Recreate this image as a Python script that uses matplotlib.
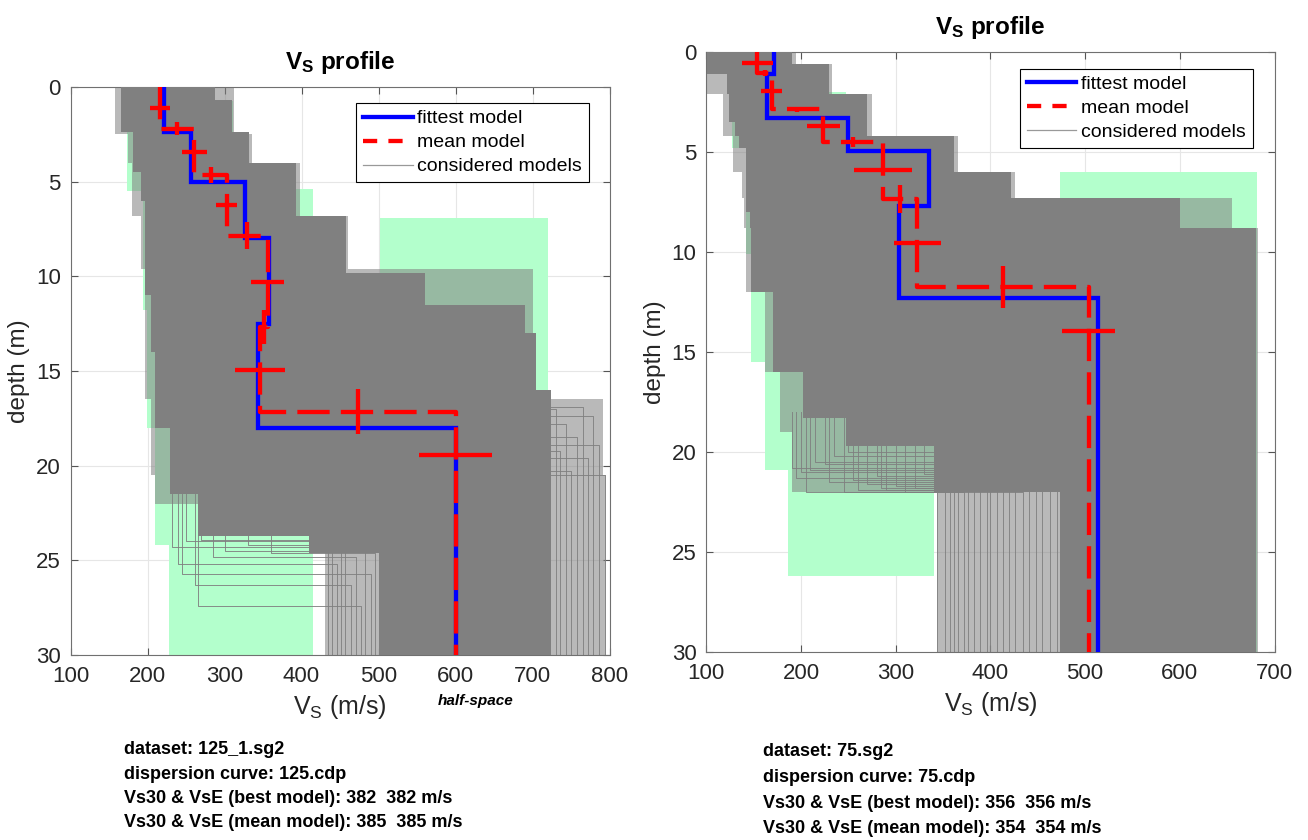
import matplotlib
matplotlib.use('Agg')
import matplotlib.pyplot as plt
from matplotlib.lines import Line2D
import numpy as np

plt.rcParams['font.family'] = ['Liberation Sans', 'DejaVu Sans']
plt.rcParams['mathtext.fontset'] = 'custom'
plt.rcParams['mathtext.rm'] = 'Liberation Sans'
plt.rcParams['mathtext.bf'] = 'Liberation Sans:bold'
plt.rcParams['mathtext.it'] = 'Liberation Sans:italic'

MAXD = 30

# ---------------- LEFT PANEL (dataset 125_1) ----------------
L_fit_vs = [222, 257, 326, 358, 343, 600]
L_fit_tops = [0, 2.4, 5.0, 8.0, 12.5, 18.0]
L_mean_vs = [216, 261, 303, 356, 346, 600]
L_mean_tops = [0, 2.2, 4.65, 7.85, 12.7, 17.15]
L_vs_err = [13, 16, 13.5, 21, 33, 47]
L_depth_err = [0.35, 0.4, 0.7, 0.9, 1.2]
L_hs_bar_depth = 19.45

L_box_vmin = [173, 194, 199, 210, 228, 502]
L_box_vmax = [311, 415, 415, 415, 415, 720]
L_box_top = [0.72, 5.4, 11.8, 18.0, 24.2, 6.94]
L_box_bot = [5.5, 11.8, 18.0, 24.2, 30, 30]

L_dense_z = [0, 0.7, 2.4, 4.0, 4.5, 6.0, 6.8, 9.8, 11.0, 11.5, 13.0, 14.0, 16.0, 18.0, 21.5, 23.7, 24.6, 30]
L_dense_lo = [165, 165, 181, 181, 191, 197, 197, 197, 205, 205, 205, 210, 210, 229, 265, 410, 500]
L_dense_hi = [288, 310, 332, 393, 393, 393, 458, 560, 560, 690, 705, 705, 724, 724, 724, 724, 724]

L_sparse_z = [0, 2.5, 4.0, 6.8, 9.6, 16.5, 20.5, 22.0, 30]
L_sparse_lo = [158, 175, 180, 192, 197, 205, 210, 430]
L_sparse_hi = [312, 336, 398, 460, 700, 792, 795, 795]

L_fr_lo_upper = [232, 250, 240, 300, 270, 262, 285, 265, 330, 245, 360]
L_fr_lo_iface = [24.3, 24.0, 25.2, 24.5, 23.9, 26.3, 24.8, 27.4, 24.2, 25.7, 24.6]
L_fr_lo_half = [434, 439, 446, 451, 457, 464, 471, 477, 482, 490, 496]
L_fr_hi_upper = [700, 690, 710, 705, 715, 695, 720, 700, 712, 708]
L_fr_hi_iface = [17.0, 19.2, 17.8, 20.3, 18.5, 16.9, 19.6, 17.4, 18.9, 20.5]
L_fr_hi_half = [730, 736, 743, 750, 758, 765, 772, 778, 787, 794]

L_info = ["dataset: 125_1.sg2",
          "dispersion curve: 125.cdp",
          "Vs30 & VsE (best model): 382  382 m/s",
          "Vs30 & VsE (mean model): 385  385 m/s"]

# ---------------- RIGHT PANEL (dataset 75) ----------------
R_fit_vs = [171, 163.7, 249.7, 335.6, 304, 513.7]
R_fit_tops = [0, 1.1, 3.3, 4.95, 7.7, 12.3]
R_mean_vs = [154, 169, 223.5, 286.6, 323, 503.6]
R_mean_tops = [0, 1.05, 2.87, 4.48, 7.36, 11.77]
R_vs_err = [16.7, 11.4, 17.6, 30.3, 25, 27.9]
R_depth_err = [0.15, 0.12, 0.25, 0.7, 1.05]
R_hs_bar_depth = 13.95

R_box_vmin = [127, 142, 147, 162, 186, 473.5]
R_box_vmax = [229, 248, 340, 340, 340, 682]
R_box_top = [0.67, 2.0, 10.1, 15.5, 20.9, 6.0]
R_box_bot = [4.8, 10.1, 15.5, 20.9, 26.2, 30]

R_dense_z = [0, 0.6, 1.1, 2.1, 3.5, 4.2, 4.8, 6.0, 7.3, 8.0, 8.8, 12.0, 16.0, 18.3, 19.7, 22.0, 30]
R_dense_lo = [101, 101, 122, 124, 130, 135, 142, 142, 142, 146, 147, 170, 202, 248, 340, 474]
R_dense_hi = [190, 230, 230, 270, 270, 362, 362, 422, 600, 600, 680, 680, 680, 680, 680, 680]

R_sparse_z = [0, 0.6, 2.1, 4.2, 6.0, 7.3, 8.8, 12, 16, 19, 22, 30]
R_sparse_lo = [100, 100, 118, 128, 138, 140, 142, 162, 178, 190, 344]
R_sparse_hi = [195, 233, 275, 366, 426, 655, 683, 683, 683, 683, 683]

R_fr_upper = [205, 230, 260, 190, 300, 245, 280, 215, 320, 200, 270, 235, 290, 210, 255, 310, 225, 195, 285, 250, 330]
R_fr_iface = [22.0, 21.5, 21.9, 20.8, 21.7, 22.0, 21.2, 20.5, 21.8, 21.0, 21.6, 20.2, 21.9, 20.9, 21.4, 22.0, 20.6, 21.3, 21.8, 20.0, 21.1]
R_fr_half = [344, 352, 357, 362, 366, 372, 376, 383, 389, 396, 400, 407, 413, 420, 426, 434, 441, 448, 455, 463, 470]

R_info = ["dataset: 75.sg2",
          "dispersion curve: 75.cdp",
          "Vs30 & VsE (best model): 356  356 m/s",
          "Vs30 & VsE (mean model): 354  354 m/s"]

GREEN = '#b3ffcc'
GRAY = '#808080'
BLUE = '#0000ff'
RED = '#ff0000'
TXT = '#262626'
LW = 3.1


def profile_xy(vs, tops, bottom=MAXD):
    x, y = [], []
    for i, v in enumerate(vs):
        t = tops[i]
        b = tops[i + 1] if i + 1 < len(tops) else bottom
        x += [v, v]
        y += [t, b]
    return x, y


def env_xy(z, lo, hi):
    y, l, h = [], [], []
    for i in range(len(lo)):
        y += [z[i], z[i + 1]]
        l += [lo[i], lo[i]]
        h += [hi[i], hi[i]]
    return y, l, h


def draw_panel(ax, fit_vs, fit_tops, mean_vs, mean_tops, vs_err, depth_err, hs_bar,
               bvmin, bvmax, btop, bbot, dz, dlo, dhi, sz, slo, shi,
               fringes, xlim):
    ax.set_xlim(*xlim)
    ax.set_ylim(MAXD, 0)
    # search-space boxes
    for a, b, t, bt in zip(bvmin, bvmax, btop, bbot):
        ax.fill([a, b, b, a], [t, t, bt, bt], color=GREEN, lw=0, zorder=1)
    # sparse considered models
    y, l, h = env_xy(sz, slo, shi)
    ax.fill_betweenx(y, l, h, color=GRAY, alpha=0.55, lw=0, zorder=2)
    # fringe considered models
    for upper, iface, half, start in fringes:
        ax.plot([upper, upper, half, half], [start, iface, iface, MAXD],
                color=GRAY, lw=0.7, alpha=0.9, zorder=2.5)
    # dense considered models
    y, l, h = env_xy(dz, dlo, dhi)
    ax.fill_betweenx(y, l, h, color=GRAY, lw=0, zorder=3)
    # fittest model
    x, y = profile_xy(fit_vs, fit_tops)
    ax.plot(x, y, color=BLUE, lw=LW, zorder=5, solid_joinstyle='miter')
    # mean model
    x, y = profile_xy(mean_vs, mean_tops)
    ax.plot(x, y, color=RED, lw=LW, dashes=(7.5, 2.6), zorder=6)
    # error bars on velocity (layer mid-depths)
    mids = [(mean_tops[i] + mean_tops[i + 1]) / 2 for i in range(len(mean_tops) - 1)] + [hs_bar]
    ax.errorbar(mean_vs, mids, xerr=vs_err, fmt='none', ecolor=RED, elinewidth=LW, capsize=0, zorder=6)
    # error bars on interface depths
    ivs = [(mean_vs[i] + mean_vs[i + 1]) / 2 for i in range(len(mean_vs) - 1)]
    ax.errorbar(ivs, mean_tops[1:], yerr=depth_err, fmt='none', ecolor=RED, elinewidth=LW, capsize=0, zorder=6)

    ax.set_yticks(range(0, 31, 5))
    ax.set_xticks(range(xlim[0], xlim[1] + 1, 100))
    ax.grid(True, color='#e6e6e6', lw=0.8, zorder=0)
    ax.set_axisbelow(True)
    ax.tick_params(direction='in', length=5, top=True, right=True, labelsize=16,
                   labelcolor=TXT, color='#555555', width=0.8)
    ax.tick_params(axis='x', pad=8)
    ax.tick_params(axis='y', pad=7)
    for s in ax.spines.values():
        s.set_color('#707070')
        s.set_linewidth(0.8)
    ax.set_title(r'$\mathbf{V_S}$ profile', fontsize=17.5, fontweight='bold', color='black', pad=13)
    ax.set_xlabel(r'$\mathregular{V_S}$ (m/s)', fontsize=18, color=TXT, labelpad=4)
    ax.set_ylabel('depth (m)', fontsize=17.5, color=TXT, labelpad=4)

    handles = [Line2D([], [], color=BLUE, lw=LW),
               Line2D([], [], color=RED, lw=LW, dashes=(3.3, 2.6)),
               Line2D([], [], color='#999999', lw=0.9)]
    leg = ax.legend(handles, ['fittest model', 'mean model', 'considered models'],
                    loc='upper right', bbox_to_anchor=(0.962, 0.972), borderaxespad=0,
                    fontsize=14, fancybox=False, framealpha=1, edgecolor='black',
                    labelspacing=0.33, handlelength=2.55, handletextpad=0.25,
                    borderpad=0.35)
    leg.get_frame().set_linewidth(0.8)
    leg.set_zorder(10)


fig = plt.figure(figsize=(13.08, 8.4), dpi=100)
W, H = 1308.0, 840.0
axL = fig.add_axes([70.5 / W, 1 - 655 / H, 539 / W, 568 / H])
axR = fig.add_axes([706.3 / W, 1 - 652 / H, 568.2 / W, 600 / H])

L_fringes = [(u, i, h, 21.5) for u, i, h in zip(L_fr_lo_upper, L_fr_lo_iface, L_fr_lo_half)] + \
            [(u, i, h, i) for u, i, h in zip(L_fr_hi_upper, L_fr_hi_iface, L_fr_hi_half)]
R_fringes = [(u, i, h, 18.0) for u, i, h in zip(R_fr_upper, R_fr_iface, R_fr_half)]

draw_panel(axL, L_fit_vs, L_fit_tops, L_mean_vs, L_mean_tops, L_vs_err, L_depth_err, L_hs_bar_depth,
           L_box_vmin, L_box_vmax, L_box_top, L_box_bot, L_dense_z, L_dense_lo, L_dense_hi,
           L_sparse_z, L_sparse_lo, L_sparse_hi, L_fringes, (100, 800))
draw_panel(axR, R_fit_vs, R_fit_tops, R_mean_vs, R_mean_tops, R_vs_err, R_depth_err, R_hs_bar_depth,
           R_box_vmin, R_box_vmax, R_box_top, R_box_bot, R_dense_z, R_dense_lo, R_dense_hi,
           R_sparse_z, R_sparse_lo, R_sparse_hi, R_fringes, (100, 700))

fig.text(476 / W, 1 - 701 / H, 'half-space', fontsize=11, style='italic', fontweight='bold',
         ha='center', va='center', color='black')

for i, s in enumerate(L_info):
    fig.text(124 / W, 1 - (750 + i * 24.3) / H, s, fontsize=13, fontweight='bold',
             ha='left', va='center', color='black')
for i, s in enumerate(R_info):
    fig.text(762.5 / W, 1 - (752 + i * 25.5) / H, s, fontsize=13, fontweight='bold',
             ha='left', va='center', color='black')

fig.savefig('out.png', dpi=100)
